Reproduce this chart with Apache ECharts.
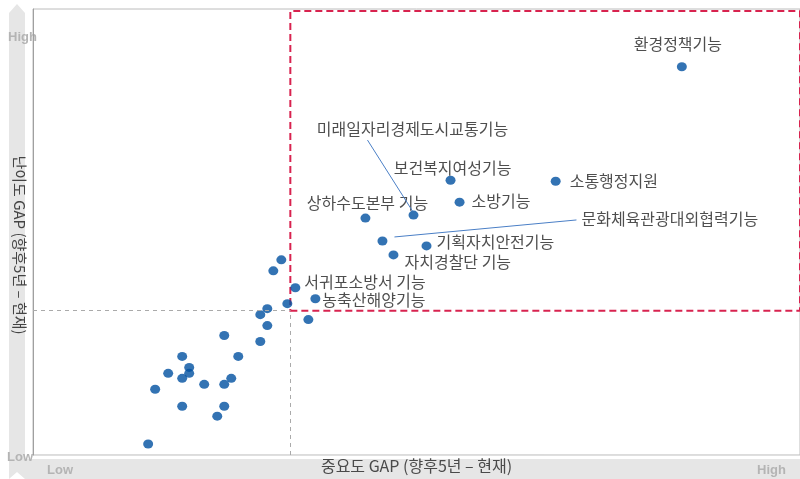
<!DOCTYPE html>
<html>
<head>
<meta charset="utf-8">
<script src="https://cdn.jsdelivr.net/npm/echarts@6/dist/echarts.min.js"></script>
<style>html,body{margin:0;padding:0;background:#fff}#c{width:800px;height:479px}</style>
</head>
<body>
<div id="c"></div>
<script>
// ---- data ----
var names = ['환경정책기능','소통행정지원','보건복지여성기능','소방기능','상하수도본부 기능','미래일자리경제도시교통기능','문화체육관광대외협력기능','기획자치안전기능','자치경찰단 기능','서귀포소방서 기능','농축산해양기능',
  '','','','','','','','','','','','','','','','','','','','','','',''];
var importanceGap = [3.91,2.65,1.60,1.69,0.75,1.23,0.92,1.36,1.03,0.05,0.25,
  -0.09,-0.17,-0.03,-0.23,-0.30,0.18,-0.23,-0.66,-0.30,-1.08,-0.52,-1.01,-1.22,-1.01,-1.08,-0.59,-0.66,-0.86,-1.35,-1.08,-0.66,-0.73,-1.42];
var difficultyGap = [2.45,1.30,1.31,1.09,0.93,0.96,0.70,0.65,0.56,0.23,0.12,
  0.51,0.40,0.07,0.02,-0.04,-0.09,-0.15,-0.25,-0.31,-0.46,-0.46,-0.57,-0.63,-0.63,-0.68,-0.68,-0.74,-0.74,-0.79,-0.96,-0.96,-1.06,-1.34];
var xRange = [-2.57, 5.09];
var yRange = [-1.45, 3.03];
var boxTop = 3.01;
var xTitle = '중요도 GAP (향후5년 – 현재)';
var yTitle = '난이도 GAP (향후5년 – 현재)';
var lowText = 'Low', highText = 'High';

// ---- label placement (style: pixel offset of label anchor from its point) ----
var labelPlace = {
  0:{d:[-4,-23], align:'center'},
  1:{d:[14,0], align:'left'},
  2:{d:[2,-12], align:'center'},
  3:{d:[12,-1], align:'left'},
  4:{d:[2,-15], align:'center'},
  5:{d:[-1,-86], align:'center', leader:[[-1,-4],[-46,-75]]},
  6:{d:[199,-22], align:'left', leader:[[12,-4],[194,-21]]},
  7:{d:[10,-4], align:'left'},
  8:{d:[11,7], align:'left'},
  9:{d:[9,-6], align:'left'},
  10:{d:[7,1], align:'left'}
};

var pts = importanceGap.map(function(x,i){
  var d = {name:names[i], value:[x, difficultyGap[i]]};
  if (labelPlace[i]) d.label = {show:true};
  return d;
});

var chart = echarts.init(document.getElementById('c'));
var band = '#e6e6e6';
var cornerFont = 'bold 13px "Liberation Sans", Arial';
chart.setOption({
  animation:false,
  grid:{left:33, right:0, top:9, bottom:21, show:true, borderColor:'#bcbcbc', borderWidth:1},
  xAxis:{type:'value', min:xRange[0], max:xRange[1], splitLine:{show:false}, axisLabel:{show:false}, axisTick:{show:false},
    axisLine:{show:false},
    name:xTitle, nameLocation:'middle', nameGap:3,
    nameTextStyle:{color:'#4a4a4a', fontSize:16, fontFamily:'Noto Sans CJK KR', verticalAlign:'top'}},
  yAxis:{type:'value', min:yRange[0], max:yRange[1], splitLine:{show:false}, axisLabel:{show:false}, axisTick:{show:false},
    axisLine:{show:true, onZero:false, lineStyle:{color:'#a0a0a0', width:1}}},
  graphic:[
    {id:'bandL', type:'polygon', z:-10, shape:{points:[[9,13],[17,4],[25,13],[25,479],[17,472],[9,479]]}, style:{fill:band}},
    {id:'bandB', type:'rect', z:-10, shape:{x:25,y:459,width:775,height:20}, style:{fill:band}},
    {id:'hi1', type:'text', left:8, top:31, style:{text:highText, fill:'#b4b4b4', font:cornerFont}},
    {id:'lo1', type:'text', left:7, top:451, style:{text:lowText, fill:'#b4b4b4', font:cornerFont}},
    {id:'lo2', type:'text', left:47, top:464, style:{text:lowText, fill:'#b4b4b4', font:cornerFont}},
    {id:'hi2', type:'text', left:757, top:464, style:{text:highText, fill:'#b4b4b4', font:cornerFont}},
    {id:'ytitle', type:'text', x:20, y:245, rotation:-Math.PI/2,
      style:{text:yTitle, fill:'#444', font:'15px "Noto Sans CJK KR"', textAlign:'center', textVerticalAlign:'middle'}}
  ],
  series:[{
    type:'scatter',
    symbol:'circle',
    symbolSize:[10,9],
    itemStyle:{color:'#0050a0'},
    label:{show:false, formatter:'{b}', color:'#222', fontSize:16, fontFamily:'Noto Sans CJK KR'},
    labelLayout:function(p){
      var lp = labelPlace[p.dataIndex];
      if (!lp) return {};
      var cx = p.rect.x + p.rect.width/2, cy = p.rect.y + p.rect.height/2;
      return {x:cx+lp.d[0], y:cy+lp.d[1], align:lp.align, verticalAlign:'middle'};
    },
    data:pts,
    markArea:{silent:true, itemStyle:{color:'rgba(0,0,0,0)', borderColor:'#d8234f', borderWidth:2, borderType:[7,4]},
      data:[[{coord:[0,0]},{coord:[xRange[1],boxTop]}]]},
    markLine:{silent:true, symbol:'none', label:{show:false}, lineStyle:{color:'#aaaaaa', type:[4,4], width:1},
      data:[[{coord:[xRange[0],0]},{coord:[0,0]}],[{coord:[0,yRange[0]]},{coord:[0,0]}]]}
  }]
});

// leader lines from points to moved labels, placed through the chart's own scales
var leaders = [];
Object.keys(labelPlace).forEach(function(k){
  var lp = labelPlace[k]; if (!lp.leader) return;
  var i = +k;
  var p = chart.convertToPixel({seriesIndex:0}, [importanceGap[i], difficultyGap[i]]);
  leaders.push({id:'lead'+i, type:'line', z:5,
    shape:{x1:p[0]+lp.leader[0][0], y1:p[1]+lp.leader[0][1], x2:p[0]+lp.leader[1][0], y2:p[1]+lp.leader[1][1]},
    style:{stroke:'#4a7fc6', lineWidth:1}});
});
chart.setOption({graphic:leaders});
</script>
</body>
</html>
